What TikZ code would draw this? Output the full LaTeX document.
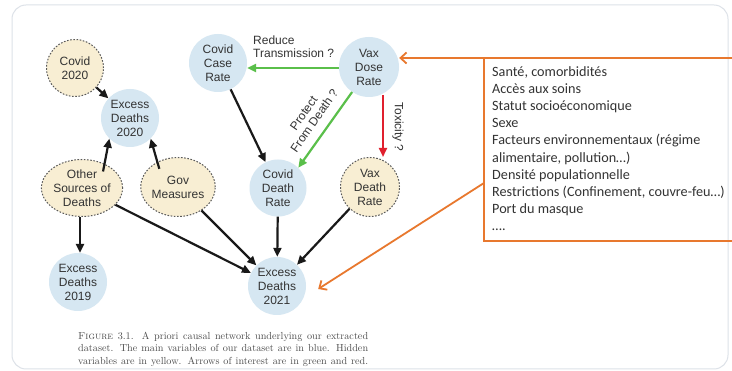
\documentclass[tikz,border=0pt]{standalone}
\usepackage{fontspec}
\usetikzlibrary{arrows.meta,shapes.geometric}
\newfontfamily\nodefont{Liberation Sans}
\newfontfamily\boxfont{Carlito}
\definecolor{bluefill}{HTML}{D6E7F2}
\definecolor{yelfill}{HTML}{F8EED3}
\definecolor{txt}{HTML}{333333}
\definecolor{grn}{HTML}{5ABF4A}
\definecolor{rd}{HTML}{E0202E}
\definecolor{org}{HTML}{E8782E}
\definecolor{frame}{HTML}{DDE2E8}
\newcommand{\capline}[1]{\hbox to 290pt{#1}}
\tikzset{
  var/.style={circle, fill=bluefill, minimum size=58pt, inner sep=0pt, align=center,
    font=\nodefont\fontsize{12}{14}\selectfont, text=txt},
  hid/.style={var, fill=yelfill, draw=black!65, line width=1pt, dash pattern=on 1.6pt off 1.6pt},
  hidell/.style={hid, ellipse},
  blk/.style={-{Triangle[length=9pt,width=8pt]}, line width=2.2pt, black!90},
  grnarr/.style={-{Triangle[length=9pt,width=8pt]}, line width=2.2pt, grn},
  redarr/.style={-{Triangle[length=9pt,width=8pt]}, line width=2.2pt, rd},
  orarr/.style={-{Straight Barb[length=6pt,width=11pt,line width=1.8pt]}, line width=1.8pt, org},
  lbl/.style={font=\nodefont\fontsize{12}{13}\selectfont, text=txt, align=left, inner sep=0pt},
}
\begin{document}
\begin{tikzpicture}[x=1pt,y=-1pt]
\useasboundingbox (0,0) rectangle (732,371);
\fill[white] (0,0) rectangle (732,371);
\draw[frame, line width=1pt, rounded corners=14pt] (12,5) rectangle (728,369);

% nodes
\node[hid, minimum size=57pt] (c20) at (75,68) {Covid\\2020};
\node[var] (e20) at (130,118) {Excess\\Deaths\\2020};
\node[hidell, minimum width=66pt, minimum height=57pt] (oth) at (82,188) {Other\\Sources of\\Deaths};
\node[hidell, minimum width=62pt, minimum height=59pt] (gov) at (178,187) {Gov\\Measures};
\node[var] (e19) at (78,282) {Excess\\Deaths\\2019};
\node[var] (ccr) at (218,63) {Covid\\Case\\Rate};
\node[var, minimum size=60pt] (vdr) at (369,67) {Vax\\Dose\\Rate};
\node[var, minimum size=57pt] (cdr) at (278,188) {Covid\\Death\\Rate};
\node[hid, minimum size=59pt] (vdd) at (370,187) {Vax\\Death\\Rate};
\node[var] (e21) at (277,286) {Excess\\Deaths\\2021};

% black edges
\draw[blk] (c20) -- (e20);
\draw[blk] (oth.north east) ++(-8,4) coordinate (o1) -- (e20.south west);
\draw[blk] (gov.north west) ++(8,3) coordinate (g1) -- (e20.south east);
\draw[blk] (oth.south) ++(-2,0) coordinate (o2) -- (e19.north -| o2);
\draw[blk] (oth) -- (e21);
\draw[blk] (gov) -- (e21);
\draw[blk] (cdr) -- (e21);
\draw[blk] (vdd) -- (e21);
\draw[blk] (ccr) -- (cdr);

% coloured edges
\draw[grnarr] (vdr.west |- 0,68) coordinate (v1) -- (ccr.east |- v1);
\node[lbl, anchor=south west] (l1) at (253,58) {Reduce\\Transmission ?};
\draw[grnarr] (vdr.236) -- (cdr.45);
\node[lbl, rotate=55, align=center] (l2) at (309,117) {Protect\\From Death ?};
\draw[redarr] (vdr.south) ++(14,-2) coordinate (v2) -- (vdd.north -| v2);
\node[lbl, rotate=-90] (l3) at (398,127) {Toxicity ?};

% orange box
\draw[org, line width=1.8pt] (740,58) -- (484,58) -- (484,241) -- (740,241);
\coordinate (b1) at (484,58);
\coordinate (b2) at (484,183);
\draw[orarr] (b1) -- (vdr.east |- b1);
\draw[orarr] (b2) -- ([xshift=12pt,yshift=-3pt]e21.east);
\node[anchor=north west, inner sep=0pt, align=left, text=black!80,
  font=\boxfont\fontsize{14.2}{17.2}\selectfont] (txt) at (492,66)
  {Santé, comorbidités\\Accès aux soins\\Statut socioéconomique\\Sexe\\
   Facteurs environnementaux (régime\\alimentaire, pollution…)\\
   Densité populationnelle\\Restrictions (Confinement, couvre-feu…)\\
   Port du masque\\….};

% caption
\node[anchor=north west, inner sep=0pt, align=left, text=black!70,
  font=\fontsize{10.2}{12.4}\selectfont] (cap) at (78,332)
  {\capline{\textsc{Figure} 3.1. A priori causal network underlying our extracted}\\
   \capline{dataset. The main variables of our dataset are in blue. Hidden}\\
   \capline{variables are in yellow. Arrows of interest are in green and red.}};
\end{tikzpicture}
\end{document}
